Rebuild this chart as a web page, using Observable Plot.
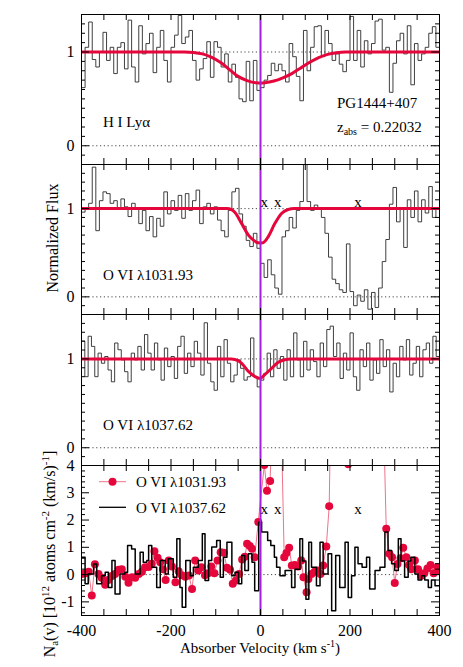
<!DOCTYPE html>
<html>
<head>
<meta charset="utf-8">
<script src="https://cdn.jsdelivr.net/npm/d3@7"></script>
<script src="https://cdn.jsdelivr.net/npm/@observablehq/plot@0.6"></script>
<style>
  html,body{margin:0;padding:0;background:#fff;}
  #wrap{position:relative;width:463px;height:667px;overflow:hidden;background:#fff;font-family:"Liberation Serif","Times New Roman",Times,serif;}
  #wrap svg{position:absolute;left:0;}
  #wrap svg text{font-family:"Liberation Serif","Times New Roman",Times,serif;}
</style>
</head>
<body>
<div id="wrap"></div>
<script>
// ---------- DATA ----------
// H I Ly-alpha normalized flux (bins across -400..400 km/s)
const lyaFlux = [
 0.62,1.05,1.32,0.92,0.84,1.0,1.21,0.91,1.05,0.77,
 1.05,1.1,0.82,1.34,0.84,0.68,1.28,0.98,1.09,1.2,
 0.78,1.05,1.23,0.91,0.68,1.05,1.18,1.39,1.09,1.16,
 1.23,0.91,0.7,0.82,0.93,1.11,0.73,1.11,1.05,0.84,
 0.98,0.68,0.87,0.73,0.5,0.47,0.9,0.48,0.91,0.59,
 0.62,0.7,0.75,0.88,0.8,0.87,0.8,0.68,1.09,0.95,
 0.74,0.48,1.23,0.8,1.05,1.27,1.28,0.95,1.23,1.09,
 0.91,0.98,0.87,0.79,0.91,1.38,0.91,1.23,0.84,1.12,
 0.98,1.09,1.33,1.35,1.02,1.05,0.57,0.88,1.12,1.2,
 0.98,1.28,0.65,1.09,0.91,0.98,1.05,1.2,1.27,1.05];
// O VI 1031.93 normalized flux
const ovi1Flux = [
 0.96,1.0,1.06,1.47,0.75,1.09,1.19,1.17,1.06,1.09,
 1.0,1.11,1.02,0.91,1.06,1.0,0.83,0.98,0.75,0.91,
 0.68,0.89,0.8,1.19,0.94,1.09,0.98,1.15,0.89,1.17,
 0.98,1.09,1.21,0.83,1.02,1.06,0.94,1.02,0.87,0.75,
 0.68,0.98,1.19,1.23,0.94,0.8,0.64,0.57,0.72,0.55,
 0.38,0.22,0.42,0.25,0.1,0.03,0.68,0.75,0.9,0.78,
 0.98,1.08,1.5,1.08,0.98,1.04,1.0,0.9,0.72,0.45,
 0.2,0.15,0.08,0.05,0.6,0.06,-0.1,0.02,-0.05,0.08,
 -0.14,0.05,-0.12,0.1,0.4,0.65,1.05,1.24,0.85,1.0,
 0.56,1.1,0.9,1.2,0.85,1.1,0.95,1.25,0.9,1.0];
// O VI 1037.62 normalized flux
const ovi2Flux = [
 1.2,0.8,1.255,1.141,0.8,1.065,0.951,1.027,0.875,0.742,
 1.179,1.103,0.989,0.856,0.742,1.065,0.989,1.141,0.875,1.274,
 1.065,0.875,1.179,0.989,0.761,1.122,0.913,1.027,0.78,1.141,
 1.255,0.837,1.065,0.913,1.198,1.065,0.818,1.407,0.951,0.742,
 0.647,1.141,0.799,1.217,0.951,0.742,0.818,0.989,0.894,0.761,
 0.799,1.236,0.799,0.685,0.761,0.837,1.065,0.799,1.103,0.894,
 1.027,0.761,1.103,0.799,1.293,0.989,0.799,1.198,0.875,1.103,
 0.97,0.799,1.179,0.913,1.331,1.369,1.027,1.179,0.78,1.065,
 0.875,1.293,0.799,0.647,1.103,0.913,1.179,0.761,0.989,0.837,
 1.217,0.913,1.103,0.628,0.951,0.799,1.141,0.989,1.217,0.818,
 0.951,1.141,0.799,1.103,1.179,0.951,1.255,1.027];

// model fits (velocity, flux)
const lyaFitV = [-400,-170,-150,-130,-110,-90,-70,-50,-30,-10,0,10,30,50,70,90,110,130,150,170,190,400];
const lyaFitF = [1,1,0.995,0.98,0.945,0.89,0.815,0.74,0.695,0.672,0.67,0.672,0.69,0.725,0.77,0.83,0.89,0.94,0.975,0.993,1,1];
const ovi1FitV = [-400,-75,-65,-57,-42,-27,-15,-5,3,10,17,32,47,62,75,400];
const ovi1FitF = [1,1,0.99,0.955,0.83,0.70,0.64,0.612,0.61,0.63,0.68,0.83,0.945,0.99,1,1];
const ovi2FitV = [-400,-65,-50,-42,-27,-12,-1,9,24,39,54,69,400];
const ovi2FitF = [1,1,0.98,0.95,0.86,0.8,0.78,0.82,0.89,0.96,0.99,1,1];

// apparent column density, O VI 1031.93 (points; > 4 are off scale)
const naRedV = [-399,-391,-384,-377,-370,-362,-355,-347,-340,-332,-325,-317,-310,-302,-295,-287,-280,-272,-265,-258,
 -250,-243,-237,-230,-224,-218,-212,-205,-198,-190,-183,-176,-168,-160,-153,-146,-139,-132,-124,-117,
 -110,-103,-96,-89,-82,-75,-68,-62,-55,-48,-41,-35,-30,-24,-19,-13,-5,8.5,14.5,21.5,
 28,36,43,53,58,64,70,77,84,91,96,103,107,114,121,128,134,140,147,153.5,
 160,168,175,182,189,196,203,211,218,226,233,241,248,256,263,270,281,288,294,300,
 306,313,319,326,332,337,345,352,359,366,373,380,387,395,400];
const naRedN = [0.02,0.05,0.1,-0.77,0.38,0.02,-0.12,-0.37,-0.2,-0.05,0.02,0.18,0.2,-0.08,-0.3,-0.1,-0.12,0.02,0.1,0.27,
 0.28,0.4,0.86,0.62,0.45,0.2,-0.2,0.52,0.3,-0.28,0.12,-0.02,-0.08,-0.03,-0.53,0.52,0.15,0.27,-0.02,0.05,
 0.3,0.05,0.52,0.82,0.8,0.25,0.18,-0.34,-0.22,0.02,0.55,0.65,1.13,1.05,0.95,0.64,1.93,4.02,3.07,3.43,
 7,9,8,0.64,0.79,0.98,0.33,0.35,0.3,0.52,-0.1,-0.65,-0.16,0.02,0.1,0.15,0.02,0.33,1.03,2.51,
 9,9,9,9,8,4.05,9,9,9,9,9,9,9,9,9,9,1.68,0.76,0.64,-0.31,
 0.39,0.6,0.98,0.64,0.35,0.2,0.52,0.2,-0.04,0.05,0.22,0.35,0.05,0.27,0.15];
// apparent column density, O VI 1037.62 (bin left edges, values)
const naBlkV = [-400,-392,-385,-373,-366,-355,-347,-340,-332,-325,-314,-303,-297,-288,-280,-269,-262,-254,-250,-243,
 -232,-224,-213,-206,-195,-187,-180,-175,-167,-157,-150,-139,-130,-124,-116,-109,-98,-90,-83,-75,
 -64,-57,-49,-42,-35,-27,-19,-13,-4,2.5,16,23,31,36,43.5,55,69.5,77,88,94,
 101.5,108,114,125,133,140,151,159,168,177,189,196,203.5,211,218,227,237,244,256,267,
 278,285,293,300,308,314,322,330,336,345,352,360,367,375,382,390];
const naBlkN = [0.64,-0.34,0.02,0.39,-0.34,-0.04,0.09,-0.47,0.52,-0.71,0.02,0.09,1.07,0.94,0.02,0.82,0.45,0.52,1.07,0.27,
 -0.47,0.52,0.02,0.58,-0.1,1.31,-0.47,-1.2,0.52,-0.04,0.27,0.52,1.5,-0.22,0.52,1.01,1.25,-0.1,0.64,1.19,
 -0.04,0.09,-0.34,0.70,0.15,0.76,0.45,-0.59,1.92,1.56,1.25,1.07,0.64,0.27,-0.04,0.15,-0.47,0.2,1.31,0.5,
 -0.9,1.19,0.27,-0.41,1.19,0.02,0.76,-1.33,0.7,-0.47,1.19,-0.84,-0.04,1.0,0.4,0.27,0.64,-0.53,0.15,0.27,
 1.56,0.88,0.4,0.15,1.31,0.5,-0.1,0.5,0.64,0.02,-0.2,-0.04,-0.2,-0.47,-0.2,-0.41];

const xTickV = [-350,-300,-250,-200,-150,-100,-50,0,50,100,150,200,250,300,350];
const xLabelV = [-400,-200,0,200,400];
const xMarkV = [8.5,38.6,217.6];
const fluxMajor = [0,1];
const naMajor = [-1,0,1,2,3,4];

// ---------- DRAWING ----------
const FONT = "Liberation Serif, Times New Roman, Times, serif";
const W = 463, ML = 81, MR = 24, PAD = 6, PW = W - ML - MR;
const RED = "#e5073b", PINK = "#f0738a", MAG = "#a51ee3", INK = "#000";
const wrap = document.getElementById("wrap");

const binSteps = vals => {
  const n = vals.length, dv = 800 / n;
  const p = vals.map((f, i) => ({v: -400 + i * dv, f}));
  p.push({v: 400, f: vals[n - 1]});
  return p;
};
const edgeSteps = (edges, vals) => {
  const p = edges.map((v, i) => ({v, f: vals[i]}));
  p.push({v: 400, f: vals[vals.length - 1]});
  return p;
};
const pts = (xs, ys) => xs.map((v, i) => ({v, f: ys[i]}));

const fluxMinor = d3.range(-1, 15).map(i => i / 10).filter(d => d !== 0 && d !== 1);
const naMinor = d3.range(-7, 20).map(i => i / 5).filter(d => Math.abs(d - Math.round(d)) > 1e-6);

function frameMarks(h, yMajor, yMinor) {
  return [
    Plot.tickX(xTickV, {x: d => d, insetTop: h - 6, stroke: INK}),
    Plot.tickX(xTickV, {x: d => d, insetBottom: h - 6, stroke: INK}),
    Plot.tickY(yMinor, {y: d => d, insetRight: PW - 4, stroke: INK}),
    Plot.tickY(yMinor, {y: d => d, insetLeft: PW - 4, stroke: INK}),
    Plot.tickY(yMajor, {y: d => d, insetRight: PW - 8, stroke: INK}),
    Plot.tickY(yMajor, {y: d => d, insetLeft: PW - 8, stroke: INK}),
    Plot.axisY({ticks: yMajor, tickSize: 0, tickPadding: 7, tickFormat: d => String(d), label: null, fontSize: 16, fontFamily: FONT}),
    Plot.frame({stroke: INK, strokeWidth: 1})
  ];
}

function addPanel(top, h, ydom, mb, marks) {
  const svg = Plot.plot({
    width: W, height: PAD + h + mb,
    marginLeft: ML, marginRight: MR, marginTop: PAD, marginBottom: mb,
    x: {domain: [-400, 400], axis: null},
    y: {domain: ydom, axis: null},
    style: {fontFamily: FONT, fontSize: "16px", background: "transparent", overflow: "visible", color: "#000"},
    marks
  });
  svg.style.top = (top - PAD) + "px";
  svg.setAttribute("font-family", FONT);
  wrap.appendChild(svg);
}

const dotted = {stroke: "#333", strokeDasharray: "1.2,2.6", strokeWidth: 0.9};

function fluxPanel(top, h, ydom, flux, fitV, fitF, withMarks) {
  addPanel(top, h, ydom, PAD, [
    Plot.ruleY(fluxMajor, dotted),
    Plot.line(binSteps(flux), {x: "v", y: "f", curve: "step-after", stroke: "#2a2a2a", strokeWidth: 0.9, clip: true}),
    Plot.line(pts(fitV, fitF), {x: "v", y: "f", curve: "monotone-x", stroke: RED, strokeWidth: 3, clip: true}),
    Plot.ruleX([0], {stroke: MAG, strokeWidth: 2}),
    ...(withMarks ? [Plot.text(xMarkV, {x: d => d, text: () => "x", frameAnchor: "top", dy: 32, fontSize: 15, fontFamily: FONT})] : []),
    ...frameMarks(h, fluxMajor, fluxMinor)
  ]);
}

fluxPanel(14, 150, [-0.2, 1.4], lyaFlux, lyaFitV, lyaFitF, false);
fluxPanel(164, 150, [-0.2, 1.5], ovi1Flux, ovi1FitV, ovi1FitF, true);
fluxPanel(314, 151, [-0.2, 1.5], ovi2Flux, ovi2FitV, ovi2FitF, false);

addPanel(465, 150, [-1.5, 4], 52, [
  Plot.ruleY([0], dotted),
  Plot.line(pts(naRedV, naRedN), {x: "v", y: "f", stroke: PINK, strokeWidth: 1, clip: true}),
  Plot.dot(pts(naRedV, naRedN), {x: "v", y: "f", r: 4, fill: RED, stroke: "none", clip: true}),
  Plot.line(edgeSteps(naBlkV, naBlkN), {x: "v", y: "f", curve: "step-after", stroke: "#000", strokeWidth: 1.5, clip: true}),
  Plot.ruleX([0], {stroke: MAG, strokeWidth: 2}),
  Plot.text(xMarkV, {x: d => d, text: () => "x", frameAnchor: "top", dy: 38, fontSize: 15, fontFamily: FONT}),
  Plot.axisX({ticks: xLabelV, tickSize: 0, tickPadding: 9, tickFormat: d => String(d), label: null, fontSize: 16, fontFamily: FONT}),
  ...frameMarks(150, naMajor, naMinor)
]);

// ---------- ANNOTATIONS ----------
wrap.insertAdjacentHTML("beforeend", `
<svg width="463" height="667" style="top:0;left:0;pointer-events:none" font-family="${FONT}" font-size="15" fill="#000">
<text x="103" y="127">H I Ly\u03b1</text>
<text x="337" y="108">PG1444+407</text>
<text x="337" y="131.5">z<tspan font-size="10" dy="3">abs</tspan><tspan dy="-3"> = 0.22032</tspan></text>
<text x="103" y="280">O VI \u03bb1031.93</text>
<text x="103" y="430">O VI \u03bb1037.62</text>
<text transform="translate(58,238) rotate(-90)" text-anchor="middle" font-size="16">Normalized Flux</text>
<text transform="translate(55,554) rotate(-90)" text-anchor="middle" font-size="16">N<tspan font-size="11" dy="3">a</tspan><tspan dy="-3">(v) [10</tspan><tspan font-size="11" dy="-6">12</tspan><tspan dy="6"> atoms cm</tspan><tspan font-size="11" dy="-6">-2</tspan><tspan dy="6"> (km/s)</tspan><tspan font-size="11" dy="-6">-1</tspan><tspan dy="6">]</tspan></text>
<text x="260" y="652.5" text-anchor="middle" font-size="15">Absorber Velocity (km s<tspan font-size="10" dy="-6">-1</tspan><tspan dy="6">)</tspan></text>
<line x1="99" x2="126" y1="481.7" y2="481.7" stroke="${PINK}" stroke-width="1"/>
<circle cx="112.5" cy="481.7" r="4" fill="${RED}"/>
<text x="136" y="487">O VI \u03bb1031.93</text>
<line x1="99" x2="126" y1="507.3" y2="507.3" stroke="#000" stroke-width="1.3"/>
<text x="136" y="512.5">O VI \u03bb1037.62</text>
</svg>`);
</script>
</body>
</html>
